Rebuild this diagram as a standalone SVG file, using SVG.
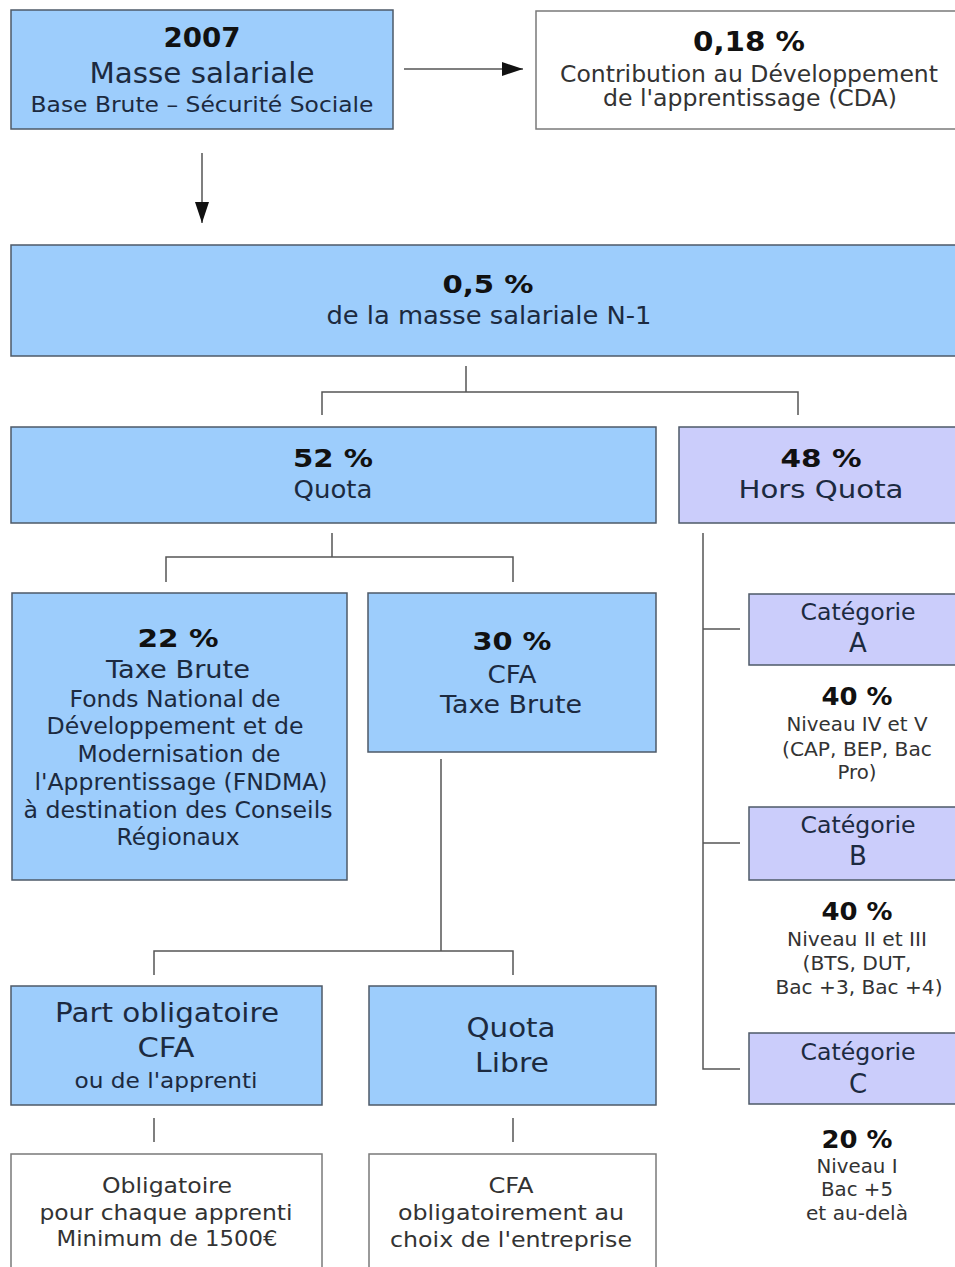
<svg xmlns="http://www.w3.org/2000/svg" width="955" height="1267" viewBox="0 0 955 1267">
<style>
text{font-family:"DejaVu Sans","Liberation Sans",sans-serif;text-anchor:middle}
.b{font-weight:bold;fill:#111}
.n{fill:#1c2a40}
.g{fill:#333}
.blue{fill:#9dcdfc;stroke:#4e5a68;stroke-width:1.5}
.lav{fill:#cbcdfb;stroke:#4e5a68;stroke-width:1.5}
.wht{fill:#fff;stroke:#7a7a7a;stroke-width:1.5}
.c{fill:none;stroke:#555;stroke-width:1.5}
</style>
<defs>
<marker id="ah2" viewBox="0 0 10 10" refX="10" refY="5" markerWidth="21" markerHeight="14" markerUnits="userSpaceOnUse" orient="auto" preserveAspectRatio="none">
<path d="M0,0L10,5L0,10z" fill="#111"/>
</marker>
</defs>
<rect width="955" height="1267" fill="#fff"/>
<g id="connectors">
<line class="c" x1="404" y1="69" x2="523" y2="69" stroke="#222" marker-end="url(#ah2)"/>
<line class="c" x1="202" y1="153" x2="202" y2="223" stroke="#222" marker-end="url(#ah2)"/>
<polyline class="c" points="466,366 466,392"/>
<polyline class="c" points="322,415 322,392 798,392 798,415"/>
<polyline class="c" points="332,533 332,557"/>
<polyline class="c" points="166,582 166,557 513,557 513,582"/>
<polyline class="c" points="441,759 441,951"/>
<polyline class="c" points="154,975 154,951 513,951 513,975"/>
<line class="c" x1="154" y1="1118" x2="154" y2="1142"/>
<line class="c" x1="513" y1="1118" x2="513" y2="1142"/>
<polyline class="c" points="703,533 703,1069 740,1069"/>
<line class="c" x1="703" y1="629" x2="740" y2="629"/>
<line class="c" x1="703" y1="843" x2="740" y2="843"/>
</g>
<g id="n2007">
<rect class="blue" x="11" y="10" width="382" height="119"/>
<text class="b" x="202" y="47" font-size="27" textLength="77" lengthAdjust="spacingAndGlyphs">2007</text>
<text class="n" x="202" y="83" font-size="28.5" textLength="225" lengthAdjust="spacingAndGlyphs">Masse salariale</text>
<text class="n" x="202" y="112" font-size="22" textLength="343" lengthAdjust="spacingAndGlyphs">Base Brute – Sécurité Sociale</text>
</g>
<g id="ncda">
<rect class="wht" x="536" y="11" width="430" height="118"/>
<text class="b" x="749" y="51" font-size="27" textLength="112" lengthAdjust="spacingAndGlyphs">0,18 %</text>
<text class="g" x="749" y="82" font-size="22.5" textLength="378" lengthAdjust="spacingAndGlyphs">Contribution au Développement</text>
<text class="g" x="750" y="106" font-size="22.5" textLength="294" lengthAdjust="spacingAndGlyphs">de l'apprentissage (CDA)</text>
</g>
<g id="n05">
<rect class="blue" x="11" y="245" width="955" height="111"/>
<text class="b" x="488" y="293" font-size="24" textLength="91" lengthAdjust="spacingAndGlyphs">0,5 %</text>
<text class="n" x="489" y="324" font-size="24" textLength="325" lengthAdjust="spacingAndGlyphs">de la masse salariale N-1</text>
</g>
<g id="n52">
<rect class="blue" x="11" y="427" width="645" height="96"/>
<text class="b" x="333" y="467" font-size="25" textLength="80" lengthAdjust="spacingAndGlyphs">52 %</text>
<text class="n" x="333" y="498" font-size="25" textLength="79" lengthAdjust="spacingAndGlyphs">Quota</text>
</g>
<g id="n48">
<rect class="lav" x="679" y="427" width="290" height="96"/>
<text class="b" x="821" y="467" font-size="25" textLength="81" lengthAdjust="spacingAndGlyphs">48 %</text>
<text class="n" x="821" y="498" font-size="25" textLength="165" lengthAdjust="spacingAndGlyphs">Hors Quota</text>
</g>
<g id="n22">
<rect class="blue" x="12" y="593" width="335" height="287"/>
<text class="b" x="178" y="647" font-size="25.5" textLength="81" lengthAdjust="spacingAndGlyphs">22 %</text>
<text class="n" x="178" y="678" font-size="25" textLength="144" lengthAdjust="spacingAndGlyphs">Taxe Brute</text>
<text class="n" x="175" y="707" font-size="22.5" textLength="211" lengthAdjust="spacingAndGlyphs">Fonds National de</text>
<text class="n" x="175" y="734" font-size="22.5" textLength="257" lengthAdjust="spacingAndGlyphs">Développement et de</text>
<text class="n" x="179" y="762" font-size="22.5" textLength="203" lengthAdjust="spacingAndGlyphs">Modernisation de</text>
<text class="n" x="181" y="790" font-size="22.5" textLength="293" lengthAdjust="spacingAndGlyphs">l'Apprentissage (FNDMA)</text>
<text class="n" x="178" y="818" font-size="22.5" textLength="309" lengthAdjust="spacingAndGlyphs">à destination des Conseils</text>
<text class="n" x="178" y="845" font-size="22.5" textLength="123" lengthAdjust="spacingAndGlyphs">Régionaux</text>
</g>
<g id="n30">
<rect class="blue" x="368" y="593" width="288" height="159"/>
<text class="b" x="512" y="650" font-size="25.5" textLength="79" lengthAdjust="spacingAndGlyphs">30 %</text>
<text class="n" x="512" y="683" font-size="25" textLength="49" lengthAdjust="spacingAndGlyphs">CFA</text>
<text class="n" x="511" y="713" font-size="25" textLength="142" lengthAdjust="spacingAndGlyphs">Taxe Brute</text>
</g>
<g id="ncatA">
<rect class="lav" x="749" y="594" width="220" height="71"/>
<text class="n" x="858" y="620" font-size="23.5" textLength="115" lengthAdjust="spacingAndGlyphs">Catégorie</text>
<text class="n" x="858" y="652" font-size="26">A</text>
</g>
<g id="tA">
<text class="b" x="857" y="705" font-size="24" textLength="71" lengthAdjust="spacingAndGlyphs">40 %</text>
<text class="g" x="857" y="731" font-size="19" textLength="141" lengthAdjust="spacingAndGlyphs">Niveau IV et V</text>
<text class="g" x="857" y="756" font-size="19" textLength="150" lengthAdjust="spacingAndGlyphs">(CAP, BEP, Bac</text>
<text class="g" x="857" y="779" font-size="19" textLength="39" lengthAdjust="spacingAndGlyphs">Pro)</text>
</g>
<g id="ncatB">
<rect class="lav" x="749" y="807" width="220" height="73"/>
<text class="n" x="858" y="833" font-size="23.5" textLength="115" lengthAdjust="spacingAndGlyphs">Catégorie</text>
<text class="n" x="858" y="865" font-size="26">B</text>
</g>
<g id="tB">
<text class="b" x="857" y="920" font-size="24" textLength="71" lengthAdjust="spacingAndGlyphs">40 %</text>
<text class="g" x="857" y="946" font-size="19" textLength="140" lengthAdjust="spacingAndGlyphs">Niveau II et III</text>
<text class="g" x="857" y="970" font-size="19" textLength="109" lengthAdjust="spacingAndGlyphs">(BTS, DUT,</text>
<text class="g" x="859" y="994" font-size="19" textLength="167" lengthAdjust="spacingAndGlyphs">Bac +3, Bac +4)</text>
</g>
<g id="ncatC">
<rect class="lav" x="749" y="1033" width="220" height="71"/>
<text class="n" x="858" y="1060" font-size="23.5" textLength="115" lengthAdjust="spacingAndGlyphs">Catégorie</text>
<text class="n" x="858" y="1093" font-size="26">C</text>
</g>
<g id="tC">
<text class="b" x="857" y="1148" font-size="24" textLength="71" lengthAdjust="spacingAndGlyphs">20 %</text>
<text class="g" x="857" y="1173" font-size="19" textLength="81" lengthAdjust="spacingAndGlyphs">Niveau I</text>
<text class="g" x="857" y="1196" font-size="19" textLength="72" lengthAdjust="spacingAndGlyphs">Bac +5</text>
<text class="g" x="857" y="1220" font-size="19" textLength="102" lengthAdjust="spacingAndGlyphs">et au-delà</text>
</g>
<g id="npart">
<rect class="blue" x="11" y="986" width="311" height="119"/>
<text class="n" x="167" y="1022" font-size="26" textLength="224" lengthAdjust="spacingAndGlyphs">Part obligatoire</text>
<text class="n" x="166" y="1057" font-size="26" textLength="57" lengthAdjust="spacingAndGlyphs">CFA</text>
<text class="n" x="166" y="1088" font-size="22" textLength="183" lengthAdjust="spacingAndGlyphs">ou de l'apprenti</text>
</g>
<g id="nlibre">
<rect class="blue" x="369" y="986" width="287" height="119"/>
<text class="n" x="511" y="1037" font-size="26" textLength="89" lengthAdjust="spacingAndGlyphs">Quota</text>
<text class="n" x="512" y="1072" font-size="26" textLength="74" lengthAdjust="spacingAndGlyphs">Libre</text>
</g>
<g id="noblig">
<rect class="wht" x="11" y="1154" width="311" height="130"/>
<text class="g" x="167" y="1193" font-size="22" textLength="130" lengthAdjust="spacingAndGlyphs">Obligatoire</text>
<text class="g" x="166" y="1220" font-size="22" textLength="253" lengthAdjust="spacingAndGlyphs">pour chaque apprenti</text>
<text class="g" x="167" y="1246" font-size="22" textLength="221" lengthAdjust="spacingAndGlyphs">Minimum de 1500€</text>
</g>
<g id="nchoix">
<rect class="wht" x="369" y="1154" width="287" height="130"/>
<text class="g" x="511" y="1193" font-size="22" textLength="45" lengthAdjust="spacingAndGlyphs">CFA</text>
<text class="g" x="511" y="1220" font-size="22" textLength="226" lengthAdjust="spacingAndGlyphs">obligatoirement au</text>
<text class="g" x="511" y="1247" font-size="22" textLength="242" lengthAdjust="spacingAndGlyphs">choix de l'entreprise</text>
</g>
</svg>
